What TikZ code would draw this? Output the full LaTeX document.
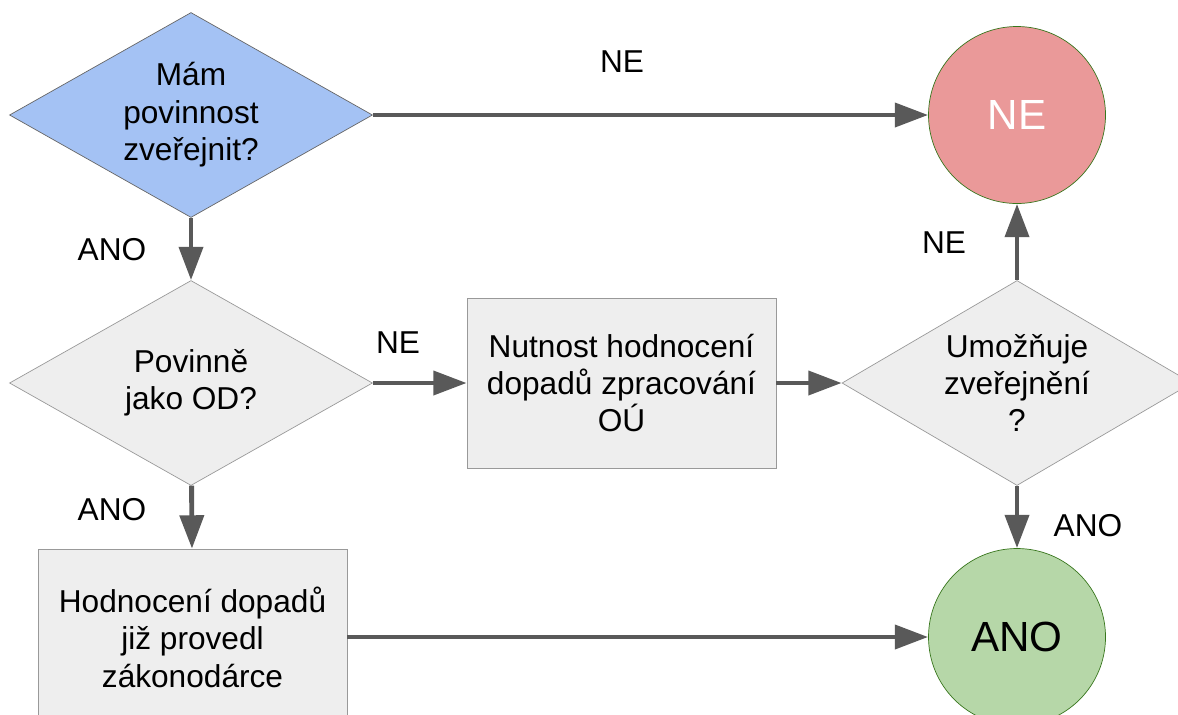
\documentclass[tikz,border=0pt]{standalone}
\usepackage{fontspec}
\setmainfont{Liberation Sans}
\usetikzlibrary{arrows.meta,shapes.geometric}
\definecolor{modra}{HTML}{A4C2F4}
\definecolor{seda}{HTML}{EEEEEE}
\definecolor{sedaRand}{HTML}{999999}
\definecolor{sipka}{HTML}{595959}
\definecolor{cervena}{HTML}{EA9999}
\definecolor{zelena}{HTML}{B6D7A8}
\definecolor{zelenaRand}{HTML}{38761D}
\tikzstyle{otazka} = [diamond,draw=sedaRand,fill=seda,inner sep=0pt,aspect=1.77,minimum width=7.26cm,minimum height=4.1cm,align=center,font=\fontsize{18}{21.3}\selectfont]
\tikzstyle{krok} = [rectangle,draw=sedaRand,fill=seda,align=center,font=\fontsize{18}{21.3}\selectfont]
\tikzstyle{konec} = [circle,draw=zelenaRand,minimum size=3.54cm,font=\fontsize{24}{28}\selectfont]
\tikzstyle{hrana} = [-{Triangle[length=19pt,width=13.5pt]},line width=2.8pt,draw=sipka]
\tikzstyle{popis} = [font=\fontsize{18}{21}\selectfont]

\begin{document}
\begin{tikzpicture}
\useasboundingbox (0,0) rectangle (23.56,-14.28);
\clip (0,0) rectangle (23.56,-14.28);

\node[otazka,fill=modra,draw=black!60] (D1) at (3.82,-2.30) {Mám\\povinnost\\zveřejnit?};
\node[otazka] (D2) at (3.82,-7.66) {Povinně\\jako OD?};
\node[krok,minimum width=6.18cm,minimum height=3.4cm] (N) at (12.43,-7.66) {Nutnost hodnocení\\dopadů zpracování\\OÚ};
\node[otazka,aspect=1.7,minimum width=7.0cm] (D3) at (20.34,-7.66) {Umožňuje\\zveřejnění\\?};
\node[krok,minimum width=6.18cm,minimum height=3.52cm] (H) at (3.85,-12.74) {Hodnocení dopadů\\již provedl\\zákonodárce};

\node[konec,fill=cervena,text=white] (NE) at (20.34,-2.30) {NE};
\node[konec,fill=zelena] (ANO) at (20.34,-12.74) {ANO};

\draw[hrana] (D1) -- (NE);
\draw[hrana] (D1) -- (D2);
\draw[hrana] (D2) -- (N);
\draw[hrana] (N) -- (D3);
\draw[hrana] (D3) -- (NE);
\draw[hrana] (D2) -- (H);
\draw[hrana] (D3) -- (ANO);
\draw[hrana] (H) -- (ANO);

\node[popis] at (12.44,-1.24) {NE};
\node[popis] at (2.24,-5.00) {ANO};
\node[popis] at (7.96,-6.86) {NE};
\node[popis] at (18.88,-4.86) {NE};
\node[popis] at (2.24,-10.20) {ANO};
\node[popis] at (21.76,-10.52) {ANO};
\end{tikzpicture}
\end{document}
